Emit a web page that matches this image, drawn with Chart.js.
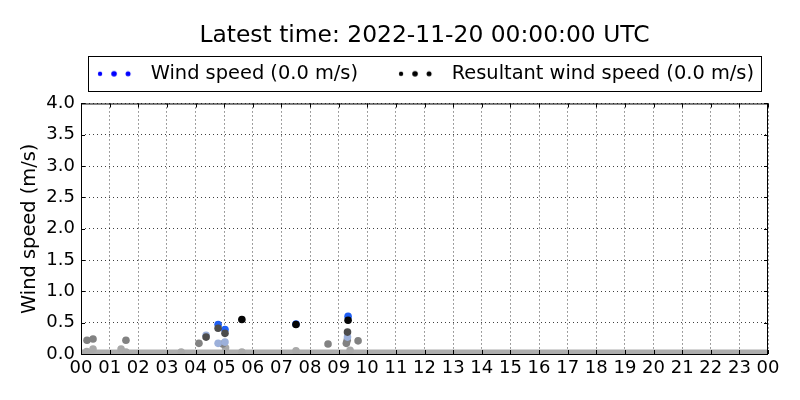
<!DOCTYPE html>
<html>
<head>
<meta charset="utf-8">
<script src="https://cdn.jsdelivr.net/npm/chart.js@4.4.0/dist/chart.umd.min.js"></script>
<style>
  body { margin: 0; background: #fff; }
  #wrap { width: 800px; height: 400px; }
</style>
</head>
<body>
<div id="wrap"><canvas id="windChart"></canvas></div>
<script>
// data (hours since 00 UTC, m/s)
const hourTicks = [0, 1, 2, 3, 4, 5, 6, 7, 8, 9, 10, 11, 12, 13, 14, 15, 16, 17, 18, 19, 20, 21, 22, 23, 24];
const speedTicks = [0, 0.5, 1, 1.5, 2, 2.5, 3, 3.5, 4];

const windHours = [4.79, 5.03, 7.51, 9.33];
const windValues = [0.47, 0.39, 0.48, 0.60];

const resultantHours = [5.62, 7.51, 9.33];
const resultantValues = [0.55, 0.47, 0.54];

const oldDarkHours = [4.79, 5.03, 9.31, 4.37];
const oldDarkValues = [0.41, 0.33, 0.35, 0.27];

const oldBlueHours = [4.37, 4.79, 5.03, 9.31];
const oldBlueValues = [0.30, 0.17, 0.19, 0.27];

const oldGreyHours = [0.21, 0.42, 1.57, 4.12, 8.63, 9.68, 9.30, 9.27, 4.95];
const oldGreyValues = [0.22, 0.24, 0.22, 0.17, 0.16, 0.21, 0.22, 0.17, 0.16];

const oldLightHours = [0.2, 0.42, 1.4, 1.57, 3.5, 5.05, 5.62, 7.51, 9.4];
const oldLightValues = [0.04, 0.08, 0.08, 0.03, 0.03, 0.10, 0.03, 0.05, 0.06];

const calmHours = [0, 24];
const calmValues = [0.07, 0.07];

const pts = (xs, ys) => xs.map((x, i) => ({ x: x, y: ys[i] }));

// three-dot legend marker, like matplotlib scatterpoints=3
// canvas is as wide as the legend box, dots sit at its right end
const MARK_W = 70;
const DOT_X = [MARK_W - 41, MARK_W - 27, MARK_W - 13];
function dots(color) {
    const c = document.createElement('canvas');
    c.width = MARK_W; c.height = 12;
    const g = c.getContext('2d');
    g.fillStyle = color;
    [2.2, 2.8, 2.5].forEach((r, i) => {
        g.beginPath();
        g.arc(DOT_X[i], 6, r, 0, Math.PI * 2);
        g.fill();
    });
    return c;
}

const frame = {
    id: 'frame',
    beforeLayout(chart) {
        const lg = chart.legend;
        if (lg && !lg._patched) {
            const fit = lg.fit;
            lg.fit = function () { fit.call(this); this.height += 10; };
            lg._patched = true;
        }
    },
    afterLayout(chart) {
        // matplotlib centres title and legend over the axes, not the figure
        const a = chart.chartArea;
        const mid = (a.left + a.right) / 2;
        const t = chart.titleBlock;
        const ts = mid - (t.left + t.right) / 2;
        t.left += ts; t.right += ts;

        const lg = chart.legend;
        const pad = lg.options.labels.padding;
        const rowW = lg.lineWidths[0];
        const rowStart = (lg.left + pad + lg.right - rowW) / 2;
        const frameL = rowStart + DOT_X[0] - 12;
        const frameR = rowStart + rowW - pad + 7;
        const ls = mid - (frameL + frameR) / 2;
        lg.left += ls; lg.right += ls;
    },
    afterDraw(chart) {
        const ctx = chart.ctx;
        const a = chart.chartArea;
        const xs = chart.scales.x, ys = chart.scales.y;
        ctx.save();
        ctx.strokeStyle = '#000';
        ctx.lineWidth = 1;
        ctx.strokeRect(a.left + 0.5, a.top + 0.5, a.right - a.left - 1, a.bottom - a.top);
        ctx.beginPath();
        hourTicks.forEach(h => {
            const px = Math.round(xs.getPixelForValue(h)) + 0.5;
            ctx.moveTo(px, a.bottom); ctx.lineTo(px, a.bottom - 4);
            ctx.moveTo(px, a.top); ctx.lineTo(px, a.top + 4);
        });
        speedTicks.forEach(v => {
            const py = Math.round(ys.getPixelForValue(v)) + 0.5;
            ctx.moveTo(a.left, py); ctx.lineTo(a.left + 4, py);
            ctx.moveTo(a.right, py); ctx.lineTo(a.right - 4, py);
        });
        ctx.stroke();
        // legend frame
        const lg = chart.legend;
        if (lg && lg.legendHitBoxes.length) {
            const first = lg.legendHitBoxes[0];
            const last = lg.legendHitBoxes[lg.legendHitBoxes.length - 1];
            const cy = first.top + first.height / 2;
            const x0 = Math.round(first.left + DOT_X[0] - 12) + 0.5;
            const x1 = Math.round(last.left + last.width + 7) + 0.5;
            ctx.strokeRect(x0, Math.round(cy - 18) + 0.5, x1 - x0, 35);
        }
        ctx.restore();
    }
};

const scatter = (label, xs, ys, color, order) => ({
    label: label,
    data: pts(xs, ys),
    backgroundColor: color,
    borderColor: color,
    borderWidth: 0,
    pointRadius: 3.8,
    showLine: false,
    order: order
});

new Chart(document.getElementById('windChart'), {
    type: 'scatter',
    data: {
        datasets: [
            {
                label: 'calm',
                type: 'line',
                data: pts(calmHours, calmValues),
                fill: 'origin',
                backgroundColor: '#adadad',
                borderWidth: 0,
                pointRadius: 0,
                order: 10
            },
            scatter('old light', oldLightHours, oldLightValues, '#a9a9a9', 9),
            scatter('old grey', oldGreyHours, oldGreyValues, '#828282', 8),
            scatter('old blue', oldBlueHours, oldBlueValues, '#9cb0da', 7),
            scatter('Wind speed (0.0 m/s)', windHours, windValues, '#1f5ff5', 6),
            scatter('old dark', oldDarkHours, oldDarkValues, '#4c4c4c', 5),
            scatter('Resultant wind speed (0.0 m/s)', resultantHours, resultantValues, '#050505', 4)
        ]
    },
    options: {
        responsive: true,
        maintainAspectRatio: false,
        animation: false,
        layout: { padding: { left: 0, right: 32, top: 0, bottom: 0 } },
        font: { family: 'DejaVu Sans' },
        plugins: {
            tooltip: { enabled: false },
            title: {
                display: true,
                text: 'Latest time: 2022-11-20 00:00:00 UTC',
                color: '#000',
                font: { family: 'DejaVu Sans', size: 23.4, weight: 'normal' },
                padding: { top: 22, bottom: 0 }
            },
            legend: {
                display: true,
                labels: {
                    usePointStyle: true,
                    pointStyleWidth: MARK_W,
                    generateLabels: chart => {
                        const items = Chart.defaults.plugins.legend.labels.generateLabels(chart);
                        items.forEach(it => {
                            if (it.text.startsWith('Wind')) it.pointStyle = dots('#0000ff');
                            if (it.text.startsWith('Resultant')) it.pointStyle = dots('#000000');
                        });
                        return items.filter(it => it.text.indexOf('m/s') >= 0)
                            .sort((p, q) => p.text.startsWith('Wind') ? -1 : 1);
                    },
                    color: '#000',
                    font: { family: 'DejaVu Sans', size: 19.4 },
                    padding: 14
                }
            }
        },
        scales: {
            x: {
                type: 'linear',
                min: 0,
                max: 24,
                afterBuildTicks: s => { s.ticks = hourTicks.map(v => ({ value: v })); },
                afterFit: s => { s.height = 46; },
                ticks: {
                    color: '#000',
                    font: { family: 'DejaVu Sans', size: 18 },
                    padding: 4,
                    maxRotation: 0,
                    autoSkip: false,
                    callback: v => String(v % 24).padStart(2, '0')
                },
                grid: {
                    color: 'rgba(0,0,0,0.75)',
                    lineWidth: 1,
                    drawTicks: false
                },
                border: { display: false, dash: [1, 3] }
            },
            y: {
                min: 0,
                max: 4,
                afterBuildTicks: s => { s.ticks = speedTicks.map(v => ({ value: v })); },
                afterFit: s => { s.width = 81; },
                ticks: {
                    color: '#000',
                    font: { family: 'DejaVu Sans', size: 18 },
                    padding: 6,
                    autoSkip: false,
                    callback: v => v.toFixed(1)
                },
                title: {
                    display: true,
                    text: 'Wind speed (m/s)',
                    color: '#000',
                    font: { family: 'DejaVu Sans', size: 19.4 },
                    padding: { top: 18, bottom: 0 }
                },
                grid: {
                    color: 'rgba(0,0,0,0.75)',
                    lineWidth: 1,
                    drawTicks: false
                },
                border: { display: false, dash: [1, 3] }
            }
        }
    },
    plugins: [frame]
});
</script>
</body>
</html>
